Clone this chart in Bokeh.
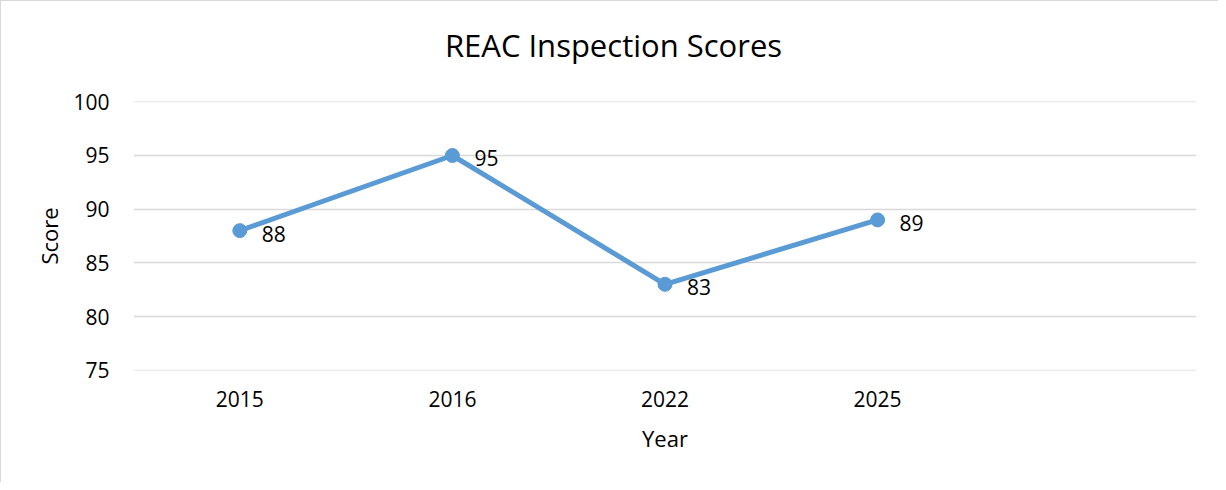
from bokeh.plotting import figure
from bokeh.models import (Range1d, ColumnDataSource, FixedTicker, LabelSet, LinearAxis)
from bokeh.core.properties import value
from bokeh.embed import file_html
from bokeh.resources import INLINE

years = ["2015", "2016", "2022", "2025"]
scores = [88, 95, 83, 89]
y_ticks = [75, 80, 85, 90, 95, 100]
TITLE = "REAC Inspection Scores"

FONT = "Open Sans"
LINE_COLOR = "#5B9BD5"
GRID = "#d9d9d9"

pos = list(range(len(years)))  # category slots; one empty slot is left on the right
src = ColumnDataSource(dict(x=pos, y=scores, lbl=[str(s) for s in scores]))

p = figure(width=1218, height=482, x_range=Range1d(-0.5, len(years) + 0.5),
           y_range=Range1d(74.97, 100.03),
           output_backend="svg", toolbar_location=None,
           min_border_left=132, min_border_right=23, min_border_top=100, min_border_bottom=113)
p.styles = {"border-left": "1px solid #d9d9d9", "border-top": "1px solid #d9d9d9",
            "box-sizing": "border-box"}
p.outline_line_color = None
p.background_fill_color = "white"

# title drawn as the single label of a hidden top axis (pixel-scaled range over the frame)
p.extra_x_ranges = {"title": Range1d(0, 1063)}
tax = LinearAxis(x_range_name="title", ticker=FixedTicker(ticks=[480]),
                 major_label_overrides={480: TITLE})
tax.axis_line_color = None
tax.major_tick_line_color = None
tax.minor_tick_line_color = None
tax.major_label_text_font = FONT
tax.major_label_text_font_size = "31px"
tax.major_label_text_color = "#000000"
tax.major_label_standoff = 30
p.add_layout(tax, "above")

p.line("x", "y", source=src, line_color=LINE_COLOR, line_width=5)
p.scatter("x", "y", source=src, size=14, fill_color=LINE_COLOR, line_color=LINE_COLOR)

labels = LabelSet(x="x", y="y", text="lbl", source=src, x_offset=22, y_offset=-3,
                  text_align="left", text_baseline="middle",
                  text_font=value(FONT), text_font_size=value("21px"), text_color="#000000")
p.add_layout(labels)

# bottom axis
xa = p.below[0]
xa.ticker = FixedTicker(ticks=pos)
xa.major_label_overrides = {i: y for i, y in zip(pos, years)}
xa.axis_line_color = None
xa.major_tick_line_color = None
xa.minor_tick_line_color = None
xa.major_label_text_font = FONT
xa.major_label_text_font_size = "21px"
xa.major_label_text_color = "#000000"
xa.major_label_standoff = 14
xa.axis_label = "Year"
xa.axis_label_text_font = FONT
xa.axis_label_text_font_size = "22px"
xa.axis_label_text_font_style = "normal"
xa.axis_label_text_color = "#000000"
xa.axis_label_standoff = 13

ya = p.left[0]
ya.ticker = FixedTicker(ticks=y_ticks)
ya.axis_line_color = None
ya.major_tick_line_color = None
ya.minor_tick_line_color = None
ya.major_label_text_font = FONT
ya.major_label_text_font_size = "21px"
ya.major_label_text_color = "#000000"
ya.major_label_standoff = 18
ya.axis_label = "Score"
ya.axis_label_text_font = FONT
ya.axis_label_text_font_size = "22px"
ya.axis_label_text_font_style = "normal"
ya.axis_label_text_color = "#000000"
ya.axis_label_standoff = 6

p.xgrid.grid_line_color = None
p.ygrid.ticker = FixedTicker(ticks=y_ticks)
p.ygrid.grid_line_color = GRID
p.ygrid.grid_line_width = 1.3

open("out.html", "w").write(file_html(p, INLINE))
